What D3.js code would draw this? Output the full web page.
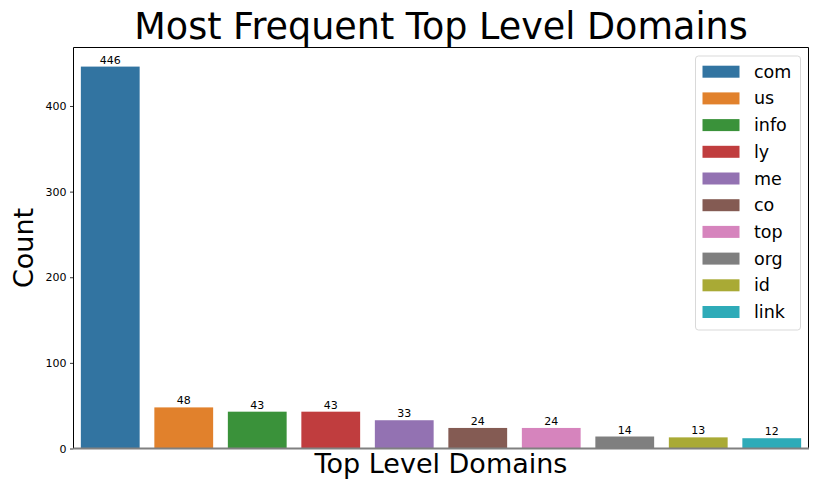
<!DOCTYPE html>
<html>
<head>
<meta charset="utf-8">
<script src="https://cdn.jsdelivr.net/npm/d3@7"></script>
<style>
  body { margin: 0; background: #fff; }
  svg text { font-family: "DejaVu Sans", sans-serif; fill: #000; }
</style>
</head>
<body>
<svg id="chart" width="822" height="493"></svg>
<script>
// data
var domains = ['com', 'us', 'info', 'ly', 'me', 'co', 'top', 'org', 'id', 'link']
var counts = [446, 48, 43, 43, 33, 24, 24, 14, 13, 12]
var colors = ['#3274a1', '#e1812c', '#3a923a', '#c03d3e', '#9372b2', '#845b53', '#d684bd', '#7f7f7f', '#a9aa35', '#2eabb8']
var yTicks = [0, 100, 200, 300, 400]

var margin = { left: 73.5, right: 808.5, top: 47.5, bottom: 448.5 }
var svg = d3.select('#chart')

var x = d3.scaleBand()
  .domain(domains)
  .range([margin.left, margin.right])
  .paddingInner(0.2)
  .paddingOuter(0.1)

var y = d3.scaleLinear()
  .domain([0, d3.max(counts) * 1.05])
  .range([margin.bottom, margin.top])

var data = domains.map(function(d, i) {
  return { name: d, value: counts[i], color: colors[i] }
})

// bars
svg.append('g').selectAll('rect')
  .data(data)
  .enter().append('rect')
  .attr('x', function(d) { return x(d.name) })
  .attr('y', function(d) { return y(d.value) })
  .attr('width', x.bandwidth())
  .attr('height', function(d) { return y(0) - y(d.value) })
  .attr('fill', function(d) { return d.color })

// bar labels
svg.append('g').selectAll('text')
  .data(data)
  .enter().append('text')
  .attr('x', function(d) { return x(d.name) + x.bandwidth() / 2 })
  .attr('y', function(d) { return y(d.value) - 3 })
  .attr('text-anchor', 'middle')
  .style('font-size', '11px')
  .text(function(d) { return d.value })

// y axis
var yAxis = svg.append('g')
  .attr('transform', 'translate(' + margin.left + ',0)')
  .call(d3.axisLeft(y).tickValues(yTicks).tickSize(3.5).tickPadding(3.5))
yAxis.select('.domain').remove()
yAxis.selectAll('.tick line').attr('stroke', '#000').attr('stroke-width', 0.8)
yAxis.selectAll('.tick text')
  .style('font-family', '"DejaVu Sans", sans-serif')
  .style('font-size', '11px')
  .attr('fill', '#000')

// frame
svg.append('line')
  .attr('x1', margin.left).attr('x2', margin.left)
  .attr('y1', margin.top).attr('y2', margin.bottom)
  .attr('stroke', '#000').attr('stroke-width', 1)
svg.append('line')
  .attr('x1', margin.right).attr('x2', margin.right)
  .attr('y1', margin.top).attr('y2', margin.bottom)
  .attr('stroke', '#000').attr('stroke-width', 1)
svg.append('line')
  .attr('x1', margin.left).attr('x2', margin.right)
  .attr('y1', margin.top).attr('y2', margin.top)
  .attr('stroke', '#000').attr('stroke-width', 1)
svg.append('line')
  .attr('x1', margin.left).attr('x2', margin.right + 0.5)
  .attr('y1', y(0)).attr('y2', y(0))
  .attr('stroke', '#808080').attr('stroke-width', 2)

// titles
svg.append('text')
  .attr('x', (margin.left + margin.right) / 2)
  .attr('y', 39)
  .attr('text-anchor', 'middle')
  .style('font-size', '36.5px')
  .text('Most Frequent Top Level Domains')

svg.append('text')
  .attr('x', (margin.left + margin.right) / 2)
  .attr('y', 473)
  .attr('text-anchor', 'middle')
  .style('font-size', '27px')
  .text('Top Level Domains')

svg.append('text')
  .attr('transform', 'translate(33,' + ((margin.top + margin.bottom) / 2) + ') rotate(-90)')
  .attr('text-anchor', 'middle')
  .style('font-size', '27px')
  .text('Count')

// legend
var legend = svg.append('g').attr('transform', 'translate(695.5,56)')
legend.append('rect')
  .attr('width', 105).attr('height', 274)
  .attr('rx', 3)
  .attr('fill', '#fff').attr('fill-opacity', 0.8)
  .attr('stroke', '#d9d9d9').attr('stroke-width', 1)

var rowH = 26.7
var items = legend.selectAll('g.item')
  .data(data)
  .enter().append('g')
  .attr('class', 'item')
  .attr('transform', function(d, i) { return 'translate(0,' + (15.7 + i * rowH) + ')' })
items.append('rect')
  .attr('x', 7).attr('y', -6)
  .attr('width', 37).attr('height', 12)
  .attr('fill', function(d) { return d.color })
items.append('text')
  .attr('x', 58.5).attr('y', 6)
  .style('font-size', '17.5px')
  .text(function(d) { return d.name })
</script>
</body>
</html>
